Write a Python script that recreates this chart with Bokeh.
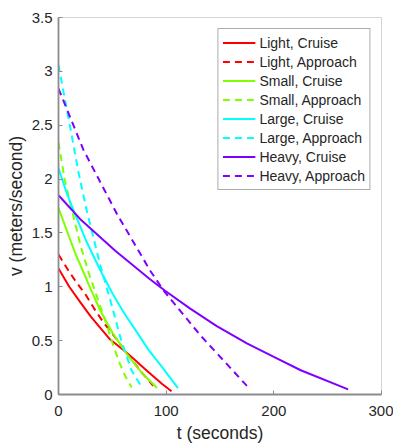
from bokeh.plotting import figure
from bokeh.models import Range1d, FixedTicker, NumeralTickFormatter
from bokeh.embed import file_html
from bokeh.resources import INLINE

# Descent speed histories, t in seconds, v in metres per second
light_cruise_t = [0, 10, 20, 29.5, 37, 48, 60, 70, 80, 88, 96, 105]
light_cruise_v = [1.17, 1.00, 0.86, 0.73, 0.64, 0.51, 0.415, 0.33, 0.24, 0.17, 0.10, 0.03]

light_approach_t = [0, 8, 16, 25, 33, 41, 52, 63, 76, 88]
light_approach_v = [1.30, 1.17, 1.05, 0.93, 0.80, 0.68, 0.54, 0.39, 0.22, 0.08]

small_cruise_t = [0, 5, 10.9, 16, 23.2, 30, 38.8, 50, 63.6, 77, 91.5]
small_cruise_v = [1.73, 1.595, 1.435, 1.30, 1.135, 0.975, 0.78, 0.575, 0.375, 0.205, 0.06]

small_approach_t = [0, 6, 14, 20, 28, 36, 44, 50, 56, 62, 68]
small_approach_v = [2.34, 1.98, 1.65, 1.40, 1.13, 0.90, 0.67, 0.48, 0.31, 0.17, 0.065]

large_cruise_t = [0, 8, 16, 26, 38, 50, 60, 76, 84, 95, 111]
large_cruise_v = [2.10, 1.86, 1.66, 1.42, 1.17, 0.94, 0.77, 0.53, 0.41, 0.27, 0.06]

large_approach_t = [0, 5, 10, 18.6, 26.4, 38.8, 48, 58, 68, 76]
large_approach_v = [3.06, 2.79, 2.53, 2.06, 1.70, 1.20, 0.88, 0.51, 0.22, 0.09]

heavy_cruise_t = [0, 20, 52.7, 85, 99, 122, 147, 175, 200, 225, 269]
heavy_cruise_v = [1.85, 1.63, 1.335, 1.07, 0.963, 0.80, 0.635, 0.475, 0.35, 0.225, 0.048]

heavy_approach_t = [0, 23.2, 54.3, 85.2, 98, 131.7, 175]
heavy_approach_v = [2.84, 2.27, 1.676, 1.149, 0.96, 0.55, 0.08]

x_ticks = [0, 100, 200, 300]
y_ticks = [0, 0.5, 1, 1.5, 2, 2.5, 3, 3.5]

FONT = "Liberation Sans"
TEXT = "#262626"

p = figure(width=393, height=445, output_backend="svg", toolbar_location=None,
           x_range=Range1d(0, 300), y_range=Range1d(0, 3.5),
           min_border_left=58, min_border_right=12,
           min_border_top=17, min_border_bottom=51)
p.background_fill_color = "white"
p.border_fill_color = "white"
p.outline_line_color = "#d4d4d4"
p.outline_line_width = 1
p.grid.visible = False

series = [
    (light_cruise_t, light_cruise_v, "#ff0000", "solid", "Light, Cruise"),
    (light_approach_t, light_approach_v, "#ff0000", "7 5", "Light, Approach"),
    (small_cruise_t, small_cruise_v, "#80ff00", "solid", "Small, Cruise"),
    (small_approach_t, small_approach_v, "#80ff00", "7 5", "Small, Approach"),
    (large_cruise_t, large_cruise_v, "#00ffff", "solid", "Large, Cruise"),
    (large_approach_t, large_approach_v, "#00ffff", "7 5", "Large, Approach"),
    (heavy_cruise_t, heavy_cruise_v, "#8000ff", "solid", "Heavy, Cruise"),
    (heavy_approach_t, heavy_approach_v, "#8000ff", "7 5", "Heavy, Approach"),
]
for t, v, color, dash, label in series:
    p.line(t, v, line_color=color, line_width=2, line_dash=dash,
           line_join="round", legend_label=label)

for ax in (p.xaxis[0], p.yaxis[0]):
    ax.axis_line_color = "#8c8c8c"
    ax.axis_line_width = 1.8
    ax.major_tick_line_color = "#8c8c8c"
    ax.major_tick_line_width = 1
    ax.major_tick_in = 4
    ax.major_tick_out = 0
    ax.minor_tick_line_color = None
    ax.major_label_text_font = FONT
    ax.major_label_text_font_size = "15px"
    ax.major_label_text_color = TEXT
    ax.axis_label_text_font = FONT
    ax.axis_label_text_font_size = "17.5px"
    ax.axis_label_text_font_style = "normal"
    ax.axis_label_text_color = TEXT

p.xaxis.ticker = FixedTicker(ticks=x_ticks)
p.yaxis.ticker = FixedTicker(ticks=y_ticks)
p.xaxis.formatter = NumeralTickFormatter(format="0")
p.yaxis.formatter = NumeralTickFormatter(format="0.[0]")
p.xaxis.axis_label = "t (seconds)"
p.yaxis.axis_label = "v (meters/second)"
p.xaxis.major_label_standoff = 11
p.yaxis.major_label_standoff = 6
p.xaxis.axis_label_standoff = 4
p.yaxis.axis_label_standoff = 3

leg = p.legend[0]
leg.location = "top_right"
leg.margin = 11
leg.padding = 4
leg.spacing = 0
leg.glyph_width = 33
leg.glyph_height = 19
leg.label_height = 19
leg.label_standoff = 4
leg.label_text_font = FONT
leg.label_text_font_size = "14px"
leg.label_text_color = TEXT
leg.border_line_color = "#595959"
leg.border_line_width = 1
leg.background_fill_color = "white"
leg.background_fill_alpha = 1

open("out.html", "w").write(file_html(p, INLINE))
